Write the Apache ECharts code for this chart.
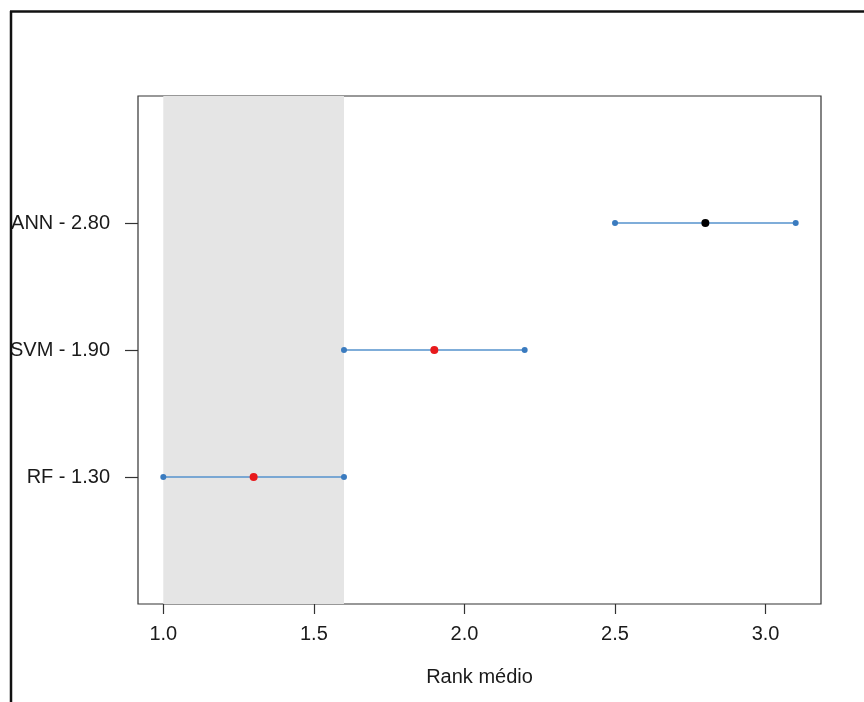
<!DOCTYPE html>
<html>
<head>
<meta charset="utf-8">
<script src="https://cdn.jsdelivr.net/npm/echarts@6/dist/echarts.min.js"></script>
<style>
html, body { margin: 0; padding: 0; background: #fff; }
#chart { width: 864px; height: 702px; }
</style>
</head>
<body>
<div id="chart"></div>
<script>
// mean ranks and critical-difference intervals
var models = ['RF', 'SVM', 'ANN'];
var meanRank = [1.30, 1.90, 2.80];
var lowerCD = [1.0, 1.6, 2.5];
var upperCD = [1.6, 2.2, 3.1];
var bestBand = [1.0, 1.6];
var xTicks = [1.0, 1.5, 2.0, 2.5, 3.0];
var meanColors = ['#e8191c', '#e8191c', '#000000'];

var font = 'Liberation Sans, Arial, sans-serif';
var myChart = echarts.init(document.getElementById('chart'));

var series = [{
    type: 'line',
    data: [],
    z: 0,
    silent: true,
    markArea: {
        silent: true,
        itemStyle: { color: '#e5e5e5' },
        data: [[{ xAxis: bestBand[0] }, { xAxis: bestBand[1] }]]
    }
}];

models.forEach(function (m, i) {
    series.push({
        type: 'line',
        name: m,
        z: 2,
        data: [[lowerCD[i], i + 1], [upperCD[i], i + 1]],
        symbol: 'circle',
        symbolSize: 6,
        lineStyle: { color: '#5592cc', width: 1.5 },
        itemStyle: { color: '#3a7bbf', opacity: 1 }
    });
});

series.push({
    type: 'scatter',
    z: 3,
    symbolSize: 8,
    data: models.map(function (m, i) {
        return { value: [meanRank[i], i + 1], itemStyle: { color: meanColors[i], opacity: 1 } };
    })
});

myChart.setOption({
    animation: false,
    grid: {
        left: 138, top: 96, right: 43, bottom: 98,
        show: true, borderColor: '#333', borderWidth: 1.2, backgroundColor: 'transparent'
    },
    xAxis: {
        type: 'value',
        min: 0.916,
        max: 3.184,
        name: 'Rank médio',
        nameLocation: 'middle',
        nameGap: 63,
        nameTextStyle: { fontFamily: font, fontSize: 20, color: '#1a1a1a' },
        axisLine: { show: false },
        splitLine: { show: false },
        axisTick: { show: true, length: 10, customValues: xTicks, lineStyle: { color: '#333', width: 1.2 } },
        axisLabel: {
            customValues: xTicks,
            margin: 20,
            fontFamily: font, fontSize: 20, color: '#1a1a1a',
            formatter: function (v) { return v.toFixed(1); }
        }
    },
    yAxis: {
        type: 'value',
        min: 0,
        max: 4,
        axisLine: { show: false },
        splitLine: { show: false },
        axisTick: { show: true, length: 13, customValues: [1, 2, 3], lineStyle: { color: '#333', width: 1.2 } },
        axisLabel: {
            customValues: [1, 2, 3],
            margin: 28,
            fontFamily: font, fontSize: 20, color: '#1a1a1a',
            formatter: function (v) {
                var i = Math.round(v) - 1;
                return models[i] + ' - ' + meanRank[i].toFixed(2);
            }
        }
    },
    graphic: [
        { type: 'line', z: 100, shape: { x1: 11, y1: 11, x2: 11, y2: 702 }, style: { stroke: '#111', lineWidth: 2.5 } },
        { type: 'line', z: 100, shape: { x1: 10, y1: 11.5, x2: 864, y2: 11.5 }, style: { stroke: '#111', lineWidth: 2.5 } }
    ],
    series: series
});
</script>
</body>
</html>
